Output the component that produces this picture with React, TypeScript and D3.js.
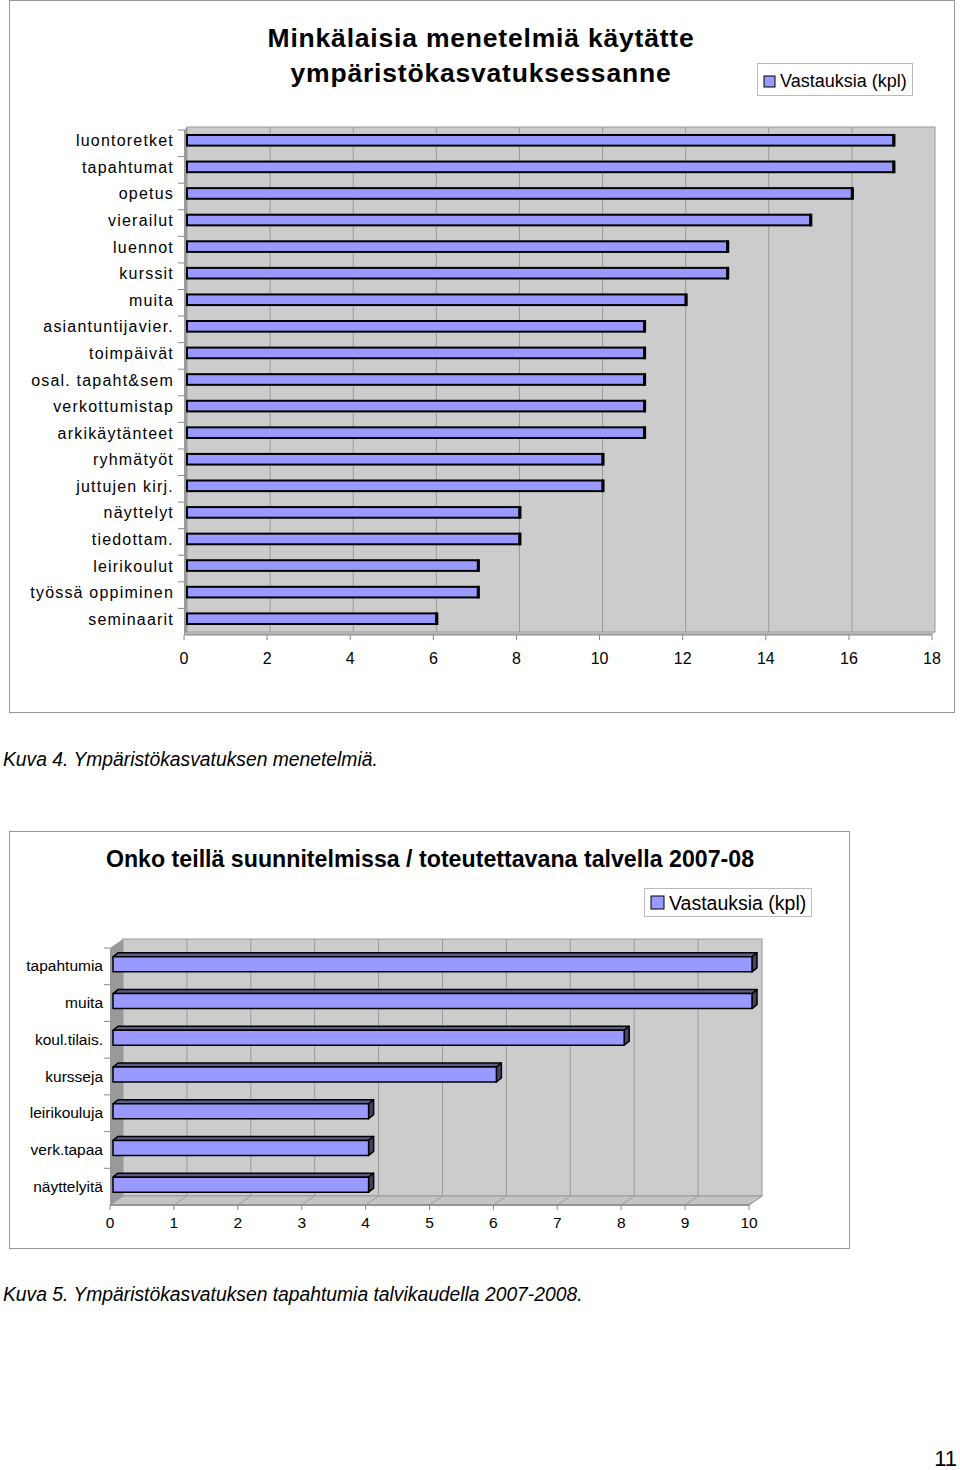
import React from "react";
import * as d3 from "d3";

// --- data: top chart ---
const methodLabels = [
  "luontoretket", "tapahtumat", "opetus", "vierailut", "luennot", "kurssit", "muita",
  "asiantuntijavier.", "toimpäivät", "osal. tapaht&sem", "verkottumistap", "arkikäytänteet",
  "ryhmätyöt", "juttujen kirj.", "näyttelyt", "tiedottam.", "leirikoulut",
  "työssä oppiminen", "seminaarit",
];
const methodValues = [17, 17, 16, 15, 13, 13, 12, 11, 11, 11, 11, 11, 10, 10, 8, 8, 7, 7, 6];
const methodTicks = [0, 2, 4, 6, 8, 10, 12, 14, 16, 18];

// --- data: bottom chart ---
const eventLabels = ["tapahtumia", "muita", "koul.tilais.", "kursseja", "leirikouluja", "verk.tapaa", "näyttelyitä"];
const eventValues = [10, 10, 8, 6, 4, 4, 4];
const eventTicks = [0, 1, 2, 3, 4, 5, 6, 7, 8, 9, 10];

const seriesName = "Vastauksia (kpl)";
const font = "'Liberation Sans', Arial, sans-serif";
const barFill = "#9999ff";
const wallFill = "#cccccc";
const gridColor = "#9a9a9a";

const TopChart = () => {
  const x = d3.scaleLinear().domain([0, 18]).range([187, 935]);
  const y = d3.scaleBand().domain(methodLabels).range([127, 632]).paddingInner(0.6).paddingOuter(0.3);
  const step = y.step();
  const top = 127, bottom = 632;

  return (
    <g>
      <rect x={9.5} y={0.5} width={945} height={712} fill="#fff" stroke="#999" />
      <text x={481} y={47} textAnchor="middle" fontFamily={font} fontWeight="bold" fontSize={26.5} letterSpacing={0.8}>
        Minkälaisia menetelmiä käytätte
      </text>
      <text x={481} y={82} textAnchor="middle" fontFamily={font} fontWeight="bold" fontSize={26.5} letterSpacing={0.8}>
        ympäristökasvatuksessanne
      </text>

      {/* legend */}
      <rect x={757.5} y={63.5} width={155} height={32} fill="#fff" stroke="#bbb" />
      <rect x={764} y={76} width={11} height={11} fill={barFill} stroke="#000" />
      <text x={780} y={87} fontFamily={font} fontSize={18}>{seriesName}</text>

      {/* walls */}
      <rect x={x(0)} y={top} width={x(18) - x(0)} height={bottom - top} fill={wallFill} stroke="#999" />
      <path d={`M${x(0) - 3},${top + 3} L${x(0)},${top} L${x(0)},${bottom} L${x(0) - 3},${bottom + 3} Z`} fill="#9a9a9a" />
      <path d={`M${x(0) - 3},${bottom + 3} L${x(0)},${bottom} L${x(18)},${bottom} L${x(18) - 3},${bottom + 3} Z`} fill="#b5b5b5" />
      <line x1={x(0) - 3} x2={x(18) - 3} y1={bottom + 3} y2={bottom + 3} stroke="#888" />
      {methodTicks.map(t => (
        <g key={t}>
          {t > 0 && t < 18 && <line x1={x(t)} x2={x(t)} y1={top} y2={bottom} stroke={gridColor} />}
          <line x1={x(t) - 3} x2={x(t) - 3} y1={bottom + 3} y2={bottom + 8} stroke="#888" />
          <text x={x(t) - 3} y={664} textAnchor="middle" fontFamily={font} fontSize={16}>{t}</text>
        </g>
      ))}
      {methodLabels.map((c, i) => (
        <line key={c} x1={x(0) - 9} x2={x(0) - 3} y1={top + 3 + i * step} y2={top + 3 + i * step} stroke="#888" />
      ))}

      {/* bars */}
      {methodLabels.map((c, i) => {
        const y0 = y(c) as number;
        const w = x(methodValues[i]) - x(0);
        return (
          <g key={c}>
            <rect x={x(0)} y={y0} width={w} height={y.bandwidth()} fill={barFill} stroke="#000" strokeWidth={2} />
            <rect x={x(methodValues[i]) - 1} y={y0 - 1} width={3} height={y.bandwidth() + 2} fill="#000" />
            <text x={174} y={y0 + y.bandwidth() / 2 + 6} textAnchor="end" fontFamily={font} fontSize={16} letterSpacing={1.2}>
              {c}
            </text>
          </g>
        );
      })}
    </g>
  );
};

const BottomChart = () => {
  const dx = 13, dy = -9;
  const x = d3.scaleLinear().domain([0, 10]).range([110, 749]);
  const y = d3.scaleBand().domain(eventLabels).range([948, 1205]);
  const front = 1205;
  const wallTop = 948 + dy;
  const bx = 5, by = -4;
  const h = 15;

  return (
    <g>
      <rect x={9.5} y={831.5} width={840} height={417} fill="#fff" stroke="#999" />
      <text x={430} y={867} textAnchor="middle" fontFamily={font} fontWeight="bold" fontSize={23.2}>
        Onko teillä suunnitelmissa / toteutettavana talvella 2007-08
      </text>

      {/* legend */}
      <rect x={644.5} y={888.5} width={167} height={28} fill="#fff" stroke="#bbb" />
      <rect x={651} y={896} width={13} height={13} fill={barFill} stroke="#000" />
      <text x={669} y={910} fontFamily={font} fontSize={19.5}>{seriesName}</text>

      {/* back wall, side wall and floor */}
      <rect x={x(0) + dx} y={wallTop} width={x(10) - x(0)} height={front + dy - wallTop} fill={wallFill} stroke="#999" />
      <path d={`M${x(0)},${wallTop - dy} L${x(0) + dx},${wallTop} L${x(0) + dx},${front + dy} L${x(0)},${front} Z`} fill="#999" />
      <path d={`M${x(0)},${front} L${x(0) + dx},${front + dy} L${x(10) + dx},${front + dy} L${x(10)},${front} Z`} fill="#c4c4c4" stroke="#999" />
      <line x1={x(0)} x2={x(10)} y1={front} y2={front} stroke="#888" strokeWidth={1.5} />
      {eventTicks.map(t => (
        <g key={t}>
          {t > 0 && t < 10 && <line x1={x(t) + dx} x2={x(t) + dx} y1={wallTop} y2={front + dy} stroke={gridColor} />}
          <line x1={x(t)} x2={x(t) + dx} y1={front} y2={front + dy} stroke={gridColor} />
          <line x1={x(t)} x2={x(t)} y1={front} y2={front + 5} stroke="#888" />
          <text x={x(t)} y={1228} textAnchor="middle" fontFamily={font} fontSize={15.5}>{t}</text>
        </g>
      ))}
      {eventLabels.map((c, i) => (
        <line key={c} x1={x(0) - 6} x2={x(0)} y1={948 + i * y.step()} y2={948 + i * y.step()} stroke="#888" />
      ))}

      {/* 3d bars */}
      {eventLabels.map((c, i) => {
        const cy = (y(c) as number) + y.step() / 2 - 2;
        const x0 = x(0) + 3;
        const x1 = x(eventValues[i]) + 3;
        const y0 = cy - h / 2;
        return (
          <g key={c} stroke="#000" strokeWidth={1.5} strokeLinejoin="round">
            <path d={`M${x0},${y0} L${x0 + bx},${y0 + by} L${x1 + bx},${y0 + by} L${x1},${y0} Z`} fill="#5c5c8a" />
            <path d={`M${x1},${y0} L${x1 + bx},${y0 + by} L${x1 + bx},${y0 + h + by} L${x1},${y0 + h} Z`} fill="#444466" />
            <rect x={x0} y={y0} width={x1 - x0} height={h} fill={barFill} />
            <text x={103} y={cy + 7} textAnchor="end" fontFamily={font} fontSize={15.5} stroke="none" fill="#000">{c}</text>
          </g>
        );
      })}
    </g>
  );
};

export default function App() {
  return (
    <svg width={960} height={1470} style={{ position: "absolute", left: 0, top: 0, background: "#fff" }}>
      <rect width={960} height={1470} fill="#fff" />
      <TopChart />
      <text x={3} y={766} fontFamily={font} fontStyle="italic" fontSize={19.3}>
        Kuva 4. Ympäristökasvatuksen menetelmiä.
      </text>
      <BottomChart />
      <text x={3} y={1301} fontFamily={font} fontStyle="italic" fontSize={19.3}>
        Kuva 5. Ympäristökasvatuksen tapahtumia talvikaudella 2007-2008.
      </text>
      <text x={957} y={1466} textAnchor="end" fontFamily={font} fontSize={22}>11</text>
    </svg>
  );
}
